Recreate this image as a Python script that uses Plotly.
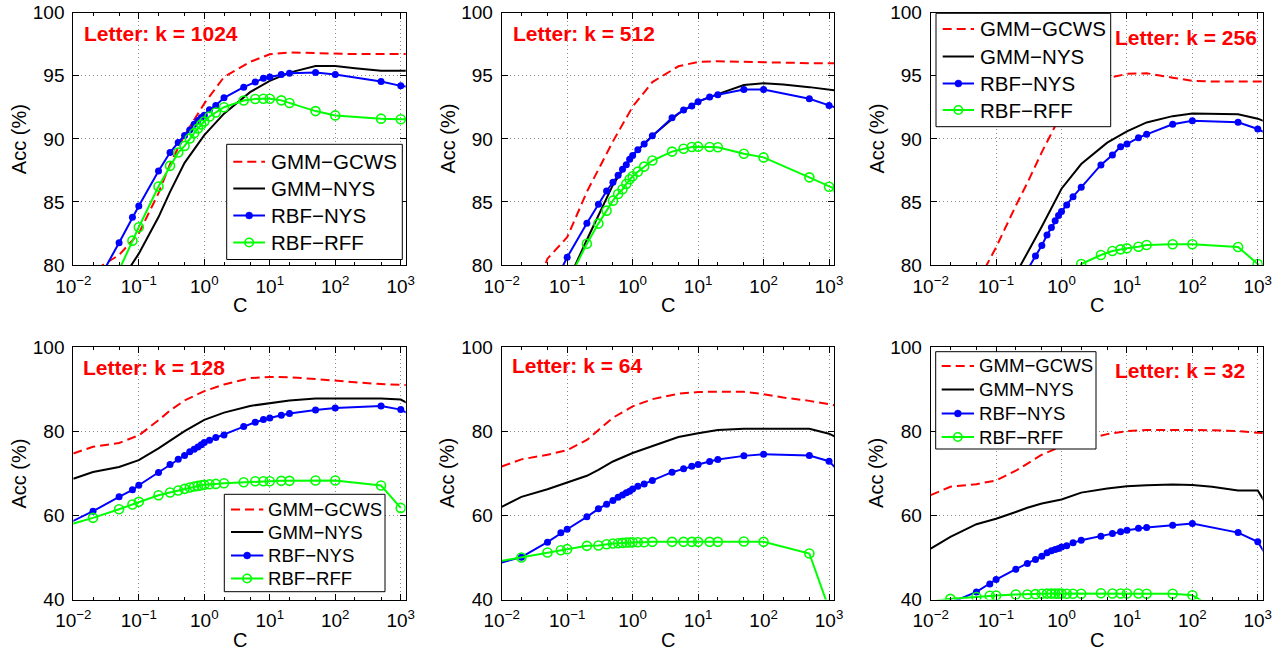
import math
import plotly.graph_objects as go

# ---------------- data ----------------
C_GMM = [0.01, 0.02, 0.05, 0.1, 0.2, 0.3, 0.5, 1, 2, 5, 10, 20, 50, 100, 200, 500, 1000, 1400]
C_RBF = [0.005, 0.02, 0.05, 0.08, 0.1, 0.2, 0.3, 0.4, 0.5, 0.6, 0.7, 0.8, 0.9, 1, 1.2, 1.5, 2,
         4, 6, 8, 10, 15, 20, 50, 100, 500, 1000, 1400]

K_VALUES = ["1024", "512", "256", "128", "64", "32"]
SERIES_NAMES = ["GMM\u2212GCWS", "GMM\u2212NYS", "RBF\u2212NYS", "RBF\u2212RFF"]

GCWS_1024 = [74.5, 79.5, 80.8, 82.5, 85.7, 88.0, 90.3, 92.8, 94.9, 96.1, 96.7, 96.85, 96.8, 96.75, 96.72, 96.72, 96.72, 96.72]
GNYS_1024 = [72.0, 74.5, 78.5, 80.9, 83.8, 85.8, 88.1, 90.3, 92.0, 93.7, 94.6, 95.25, 95.77, 95.77, 95.6, 95.4, 95.4, 95.4]
GCWS_512 = [72.0, 75.0, 80.5, 82.2, 85.8, 87.6, 89.8, 92.55, 94.5, 95.75, 96.1, 96.15, 96.1, 96.05, 96.0, 96.0, 96.0, 96.0]
GNYS_512 = [68.0, 71.0, 75.5, 78.6, 82.0, 83.9, 86.35, 88.7, 90.25, 92.0, 92.95, 93.55, 94.27, 94.4, 94.3, 94.1, 93.87, 93.8]
GCWS_256 = [72.0, 74.5, 78.5, 81.4, 84.7, 86.5, 88.95, 92.0, 93.8, 94.8, 95.15, 95.2, 94.85, 94.6, 94.55, 94.55, 94.55, 94.55]
GNYS_256 = [65.0, 69.0, 74.0, 77.0, 79.3, 80.95, 83.05, 86.05, 88.0, 89.7, 90.6, 91.3, 91.8, 92.0, 92.0, 91.95, 91.6, 91.3]
GCWS_128 = [74.7, 76.3, 77.2, 79.0, 82.6, 84.9, 87.3, 89.5, 91.1, 92.6, 92.9, 92.8, 92.4, 91.95, 91.6, 91.2, 90.9, 90.9]
GNYS_128 = [68.7, 70.3, 71.5, 73.1, 75.9, 77.7, 80.0, 82.7, 84.4, 86.0, 86.7, 87.3, 87.75, 87.8, 87.8, 87.75, 87.5, 86.3]
GCWS_64 = [71.6, 73.3, 74.4, 75.5, 77.9, 80.3, 83.2, 85.9, 87.6, 88.9, 89.3, 89.4, 89.35, 88.8, 88.0, 87.2, 86.3, 86.0]
GNYS_64 = [62.0, 64.4, 66.2, 67.8, 69.4, 70.8, 72.8, 74.8, 76.5, 78.6, 79.5, 80.3, 80.56, 80.6, 80.6, 80.56, 79.4, 78.3]
GCWS_32 = [64.8, 66.8, 67.4, 68.3, 70.6, 72.3, 74.4, 76.4, 77.8, 79.3, 80.0, 80.3, 80.4, 80.3, 80.2, 80.0, 79.6, 79.5]
GNYS_32 = [52.1, 54.9, 57.9, 59.2, 60.8, 61.8, 62.8, 63.75, 65.4, 66.4, 66.9, 67.16, 67.3, 67.2, 66.8, 65.9, 65.9, 62.2]

RNYS_1024 = [70.0, 78.0, 81.77, 83.78, 84.68, 87.46, 88.92, 89.71, 90.26, 90.71, 91.16, 91.45, 91.69, 91.88, 92.3, 92.65, 93.25,
             94.1, 94.5, 94.8, 94.9, 95.1, 95.2, 95.25, 95.1, 94.55, 94.2, 94.1]
RRFF_1024 = [62.0, 72.0, 79.6, 81.93, 82.99, 86.22, 87.86, 88.92, 89.44, 90.03, 90.45, 90.82, 91.13, 91.37, 91.77, 92.09, 92.51,
             93.04, 93.16, 93.18, 93.18, 93.05, 92.84, 92.2, 91.86, 91.6, 91.55, 91.55]
RNYS_512 = [66.0, 73.0, 77.5, 79.6, 80.61, 83.31, 84.82, 85.87, 86.56, 87.12, 87.6, 87.94, 88.39, 88.68, 89.13, 89.6, 90.24,
            91.67, 92.28, 92.6, 92.95, 93.32, 93.5, 93.92, 93.92, 93.18, 92.65, 92.4]
RRFF_512 = [65.0, 72.0, 75.5, 77.6, 78.6, 81.69, 83.28, 84.31, 85.1, 85.63, 86.0, 86.43, 86.8, 87.04, 87.4, 87.8, 88.28,
            88.99, 89.22, 89.35, 89.38, 89.35, 89.33, 88.82, 88.53, 86.95, 86.2, 85.9]
RNYS_256 = [62.0, 70.0, 73.0, 75.0, 76.0, 78.2, 79.6, 80.71, 81.55, 82.37, 82.97, 83.5, 83.92, 84.25, 84.76, 85.42, 86.16,
            87.93, 88.72, 89.38, 89.59, 90.09, 90.36, 91.15, 91.44, 91.31, 90.78, 90.4]
RRFF_256 = [60.0, 65.0, 68.0, 70.0, 71.0, 73.0, 74.0, 74.8, 75.3, 75.7, 76.0, 76.3, 76.5, 76.7, 77.0, 77.5, 80.08,
            80.79, 81.11, 81.24, 81.32, 81.45, 81.58, 81.64, 81.64, 81.43, 80.08, 77.0]
RNYS_128 = [56.4, 60.98, 64.39, 66.05, 67.16, 70.17, 72.07, 73.33, 74.2, 75.08, 75.7, 76.26, 76.8, 77.3, 77.85, 78.48, 79.11,
            81.09, 82.12, 82.76, 83.15, 83.78, 84.18, 85.05, 85.53, 86.0, 85.13, 83.9]
RRFF_128 = [56.7, 59.4, 61.46, 62.57, 63.2, 64.78, 65.42, 65.9, 66.29, 66.6, 66.84, 67.0, 67.16, 67.24, 67.4, 67.47, 67.63,
            67.87, 68.1, 68.1, 68.1, 68.19, 68.19, 68.27, 68.27, 67.08, 61.77, None]
RNYS_64 = [47.54, 50.06, 53.62, 55.84, 56.7, 59.64, 61.54, 62.65, 63.52, 64.3, 64.86, 65.34, 65.73, 66.28, 66.92, 67.47, 68.27,
           70.25, 71.04, 71.67, 72.07, 72.78, 73.26, 74.13, 74.52, 74.2, 72.86, 70.5]
RRFF_64 = [48.38, 49.98, 51.16, 51.72, 51.96, 52.75, 52.83, 53.14, 53.3, 53.38, 53.46, 53.54, 53.54, 53.62, 53.62, 53.62, 53.7,
           53.7, 53.7, 53.7, 53.7, 53.7, 53.7, 53.78, 53.7, 50.93, 37.8, None]
RNYS_32 = [34.0, 39.2, 41.8, 43.7, 44.75, 47.2, 48.55, 49.5, 50.3, 51.1, 51.56, 51.88, 52.1, 52.5, 52.75, 53.46, 54.1,
           55.04, 55.68, 56.07, 56.47, 56.94, 57.1, 57.66, 58.05, 55.9, 53.7, 50.0]
RRFF_32 = [38.8, 40.16, 40.6, 40.9, 40.95, 41.2, 41.2, 41.27, 41.35, 41.4, 41.4, 41.4, 41.4, 41.4, 41.35, 41.35, 41.35,
           41.5, 41.42, 41.42, 41.42, 41.42, 41.35, 41.35, 41.0, 34.6, 33.0, None]

X_TICKS = [0.01, 0.1, 1, 10, 100, 1000]
X_TICKTEXT = ["10<sup>\u22122</sup>", "10<sup>\u22121</sup>", "10<sup>0</sup>", "10<sup>1</sup>",
              "10<sup>2</sup>", "10<sup>3</sup>"]
Y_TICKS_TOP = [80, 85, 90, 95, 100]
Y_TICKS_BOTTOM = [40, 60, 80, 100]

# ---------------- styles / layout helpers ----------------
W, H = 1273, 650
FONT = "Liberation Sans, Arial, Helvetica, sans-serif"
RED, BLACK, BLUE, GREEN = "#ff0000", "#000000", "#0000ff", "#00ff00"
RED_DASH = "9px,5px"


def px(x):
    return x / W


def py(y):
    return 1 - y / H


COL_X = [(73.3, 405.7), (501.7, 834.0), (930.7, 1262.7)]
ROW_Y = [(12.7, 265.0), (347.0, 599.5)]
X_MAX = 1190

# legend boxes (pixel geometry): box l,t,r,b ; line sample x0,x1 ; text x ; row centres ; font size
LEGENDS = {
    0: dict(box=(226.7, 144.3, 402.3, 259.5), lx=(233.3, 265.0), tx=268.5, ys=(161.7, 188.5, 215.5, 242.5), fs=20.5),
    2: dict(box=(936.0, 13.3, 1110.7, 126.7), lx=(942.7, 974.0), tx=977.5, ys=(29.0, 56.5, 83.5, 110.0), fs=20.5),
    3: dict(box=(224.3, 494.3, 385.0, 591.7), lx=(231.0, 263.3), tx=266.0, ys=(509.5, 532.0, 555.5, 578.5), fs=18.6),
    5: dict(box=(935.7, 351.7, 1096.0, 449.0), lx=(941.7, 974.0), tx=977.0, ys=(366.0, 389.5, 413.5, 437.0), fs=18.6),
}

panels = [
    dict(k=K_VALUES[0], gcws=GCWS_1024, gnys=GNYS_1024, rnys=RNYS_1024, rrff=RRFF_1024,
         label=dict(x=82, y=33, anchor="left")),
    dict(k=K_VALUES[1], gcws=GCWS_512, gnys=GNYS_512, rnys=RNYS_512, rrff=RRFF_512,
         label=dict(x=511, y=33, anchor="left")),
    dict(k=K_VALUES[2], gcws=GCWS_256, gnys=GNYS_256, rnys=RNYS_256, rrff=RRFF_256,
         label=dict(x=1259, y=37, anchor="right")),
    dict(k=K_VALUES[3], gcws=GCWS_128, gnys=GNYS_128, rnys=RNYS_128, rrff=RRFF_128,
         label=dict(x=81, y=367, anchor="left")),
    dict(k=K_VALUES[4], gcws=GCWS_64, gnys=GNYS_64, rnys=RNYS_64, rrff=RRFF_64,
         label=dict(x=510, y=365, anchor="left")),
    dict(k=K_VALUES[5], gcws=GCWS_32, gnys=GNYS_32, rnys=RNYS_32, rrff=RRFF_32,
         label=dict(x=1247, y=370, anchor="right")),
]

fig = go.Figure()
annotations = []
shapes = []
layout_axes = {}

for i, p in enumerate(panels):
    n = i + 1
    r, c = divmod(i, 3)
    xref = "x" if n == 1 else f"x{n}"
    yref = "y" if n == 1 else f"y{n}"
    common = dict(xaxis=xref, yaxis=yref, showlegend=False, hoverinfo="skip")

    fig.add_trace(go.Scatter(x=C_GMM, y=p["gcws"], name=SERIES_NAMES[0], mode="lines",
                             line=dict(color=RED, width=2, dash=RED_DASH), **common))
    fig.add_trace(go.Scatter(x=C_GMM, y=p["gnys"], name=SERIES_NAMES[1], mode="lines",
                             line=dict(color=BLACK, width=2), **common))
    fig.add_trace(go.Scatter(x=C_RBF, y=p["rnys"], name=SERIES_NAMES[2], mode="lines+markers",
                             line=dict(color=BLUE, width=2),
                             marker=dict(symbol="circle", size=7, color=BLUE), **common))
    fig.add_trace(go.Scatter(x=C_RBF, y=p["rrff"], name=SERIES_NAMES[3], mode="lines+markers",
                             line=dict(color=GREEN, width=2),
                             marker=dict(symbol="circle-open", size=9, color=GREEN,
                                         line=dict(width=1.6, color=GREEN)), **common))

    x0, x1 = COL_X[c]
    y0, y1 = ROW_Y[r]
    ytv = Y_TICKS_TOP if r == 0 else Y_TICKS_BOTTOM
    yr = [80, 100] if r == 0 else [40, 100]
    xa = "xaxis" if n == 1 else f"xaxis{n}"
    ya = "yaxis" if n == 1 else f"yaxis{n}"
    layout_axes[xa] = dict(
        type="log", range=[-2, math.log10(X_MAX)], domain=[px(x0), px(x1)], anchor=yref,
        automargin=False,
        showline=True, linecolor="black", linewidth=1, mirror="allticks",
        ticks="inside", ticklen=6, tickcolor="black", tickwidth=1,
        tickvals=X_TICKS, ticktext=X_TICKTEXT, tickfont=dict(size=19, color="black", family=FONT),
        showgrid=True, gridcolor="#8c8c8c", griddash="1px,3px", gridwidth=1, zeroline=False,
        minor=dict(ticks="inside", ticklen=3, tickcolor="black", showgrid=False),
        ticklabelstandoff=4,
    )
    layout_axes[ya] = dict(
        range=yr, domain=[py(y1), py(y0)], anchor=xref,
        automargin=False,
        showline=True, linecolor="black", linewidth=1, mirror="allticks",
        ticks="inside", ticklen=6, tickcolor="black", tickwidth=1,
        tickvals=ytv, tickfont=dict(size=19, color="black", family=FONT),
        showgrid=True, gridcolor="#8c8c8c", griddash="1px,3px", gridwidth=1, zeroline=False,
        ticklabelstandoff=4,
    )

    # panel label
    lab = p["label"]
    annotations.append(dict(
        text=f"Letter: k = {p['k']}", x=px(lab["x"]), y=py(lab["y"]), xref="paper", yref="paper",
        xanchor=lab["anchor"], yanchor="middle", showarrow=False,
        font=dict(size=21, color=RED, family=FONT, weight="bold"),
    ))
    # axis titles
    annotations.append(dict(
        text="C", x=px((x0 + x1) / 2), y=py(y1 + 40), xref="paper", yref="paper",
        xanchor="center", yanchor="middle", showarrow=False,
        font=dict(size=20, color="black", family=FONT),
    ))
    annotations.append(dict(
        text="Acc (%)", x=px(x0 - 54), y=py((y0 + y1) / 2), xref="paper", yref="paper",
        xanchor="center", yanchor="middle", showarrow=False, textangle=-90,
        font=dict(size=20, color="black", family=FONT),
    ))

    # MATLAB-style legend box
    if i in LEGENDS:
        g = LEGENDS[i]
        bl, bt, br, bb = g["box"]
        shapes.append(dict(type="rect", xref="paper", yref="paper", layer="above",
                           x0=px(bl), x1=px(br), y0=py(bb), y1=py(bt),
                           line=dict(color="black", width=1), fillcolor="white"))
        lx0, lx1 = g["lx"]
        mx = (lx0 + lx1) / 2
        styles = [
            dict(color=RED, dash=RED_DASH, marker=None),
            dict(color=BLACK, dash="solid", marker=None),
            dict(color=BLUE, dash="solid", marker="dot"),
            dict(color=GREEN, dash="solid", marker="ring"),
        ]
        for name, yy, st in zip(SERIES_NAMES, g["ys"], styles):
            shapes.append(dict(type="line", xref="paper", yref="paper", layer="above",
                               x0=px(lx0), x1=px(lx1), y0=py(yy), y1=py(yy),
                               line=dict(color=st["color"], width=2, dash=st["dash"])))
            if st["marker"] == "dot":
                rad = 3.5
                shapes.append(dict(type="circle", xref="paper", yref="paper", layer="above",
                                   x0=px(mx - rad), x1=px(mx + rad), y0=py(yy + rad), y1=py(yy - rad),
                                   line=dict(color=BLUE, width=0.5), fillcolor=BLUE))
            elif st["marker"] == "ring":
                rad = 4.2
                shapes.append(dict(type="circle", xref="paper", yref="paper", layer="above",
                                   x0=px(mx - rad), x1=px(mx + rad), y0=py(yy + rad), y1=py(yy - rad),
                                   line=dict(color=GREEN, width=1.6), fillcolor="rgba(0,0,0,0)"))
            annotations.append(dict(
                text=name, x=px(g["tx"]), y=py(yy), xref="paper", yref="paper",
                xanchor="left", yanchor="middle", showarrow=False,
                font=dict(size=g["fs"], color="black", family=FONT),
            ))

fig.update_layout(
    width=W, height=H,
    margin=dict(l=0, r=0, t=0, b=0, autoexpand=False),
    paper_bgcolor="white", plot_bgcolor="white",
    font=dict(family=FONT, color="black"),
    showlegend=False,
    hovermode=False,
    annotations=annotations,
    shapes=shapes,
    **layout_axes,
)

fig.write_html(
    "out.html",
    config={"displayModeBar": False, "staticPlot": True},
    post_script="document.body.style.margin='0px';document.body.style.overflow='hidden';",
)
